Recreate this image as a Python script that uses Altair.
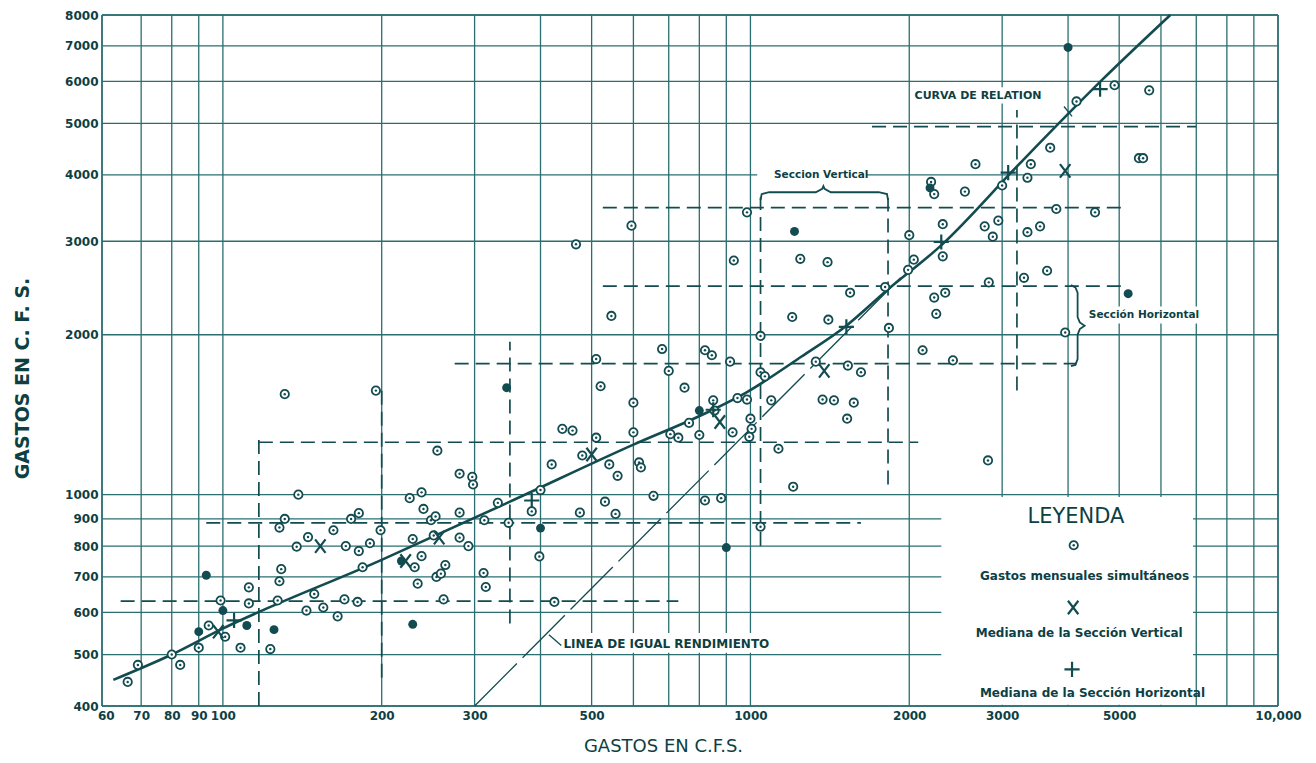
import altair as alt
import pandas as pd

FONT = "DejaVu Sans"
GRID = "#2a6e71"
DARK = "#134c50"
TXT = "#0e3f43"

# ---------------- data (c.f.s.) ----------------
open_x = [66, 69, 80, 83, 90, 94, 99, 101, 108, 112, 112, 123, 127, 128, 129, 128, 131, 131, 139, 138,
          145, 144, 149, 155, 162, 165, 170, 171, 175, 180, 181, 181, 184, 190, 199, 195, 226, 231, 229, 234,
          238, 240, 238, 248, 253, 251, 254, 259, 264, 255, 281, 281, 281, 292, 262, 297, 298, 312, 315, 313,
          332, 348,
          985, 595, 467, 930, 1243, 1400, 2000, 2040, 1990, 2315, 2315, 2230, 2340, 2250, 2120, 2420, 1545, 1800,
          1830, 1405, 1200, 1045, 545, 680, 820, 845, 915, 510, 700, 520, 750, 600, 1045, 1065, 1330, 1530,
          1620, 1095, 1370, 1440, 1570, 1525, 1205, 1130, 945, 985, 850, 855, 1000, 1005, 925, 995, 800, 765,
          730, 705, 600, 615, 620, 560, 540, 510, 480, 440, 460, 420, 400, 385, 398, 475, 530, 555, 655, 820,
          880, 1045, 425, 2820,
          4900, 5700, 4150, 3700, 3400, 3350, 2670, 2550, 2200, 2230, 3000, 2780, 2950, 2880, 3350, 3540, 3800,
          4500, 5450, 5550, 2830, 3300, 3650, 3950]
open_y = [444, 478, 500, 478, 515, 567, 632, 540, 515, 669, 624, 512, 632, 687, 724, 867, 900, 1546, 1000, 798,
          832, 605, 650, 613, 857, 590, 635, 800, 900, 628, 923, 783, 730, 810, 857, 1570, 985, 730, 825, 680,
          1010, 940, 766, 895, 910, 838, 700, 710, 737, 1210, 1095, 925, 830, 800, 635, 1080, 1045, 712, 670, 895,
          965, 885,
          3400, 3210, 2960, 2760, 2780, 2740, 3080, 2770, 2650, 3230, 2810, 2350, 2400, 2190, 1870, 1790, 2400, 2460,
          2060, 2135, 2160, 1990, 2170, 1880, 1870, 1830, 1780, 1800, 1710, 1600, 1590, 1490, 1700, 1670, 1780, 1750,
          1700, 1505, 1510, 1505, 1490, 1390, 1035, 1220, 1520, 1510, 1505, 1440, 1390, 1330, 1310, 1285, 1295, 1365,
          1280, 1300, 1310, 1150, 1125, 1085, 1140, 1280, 1185, 1330, 1320, 1140, 1020, 930, 765, 925, 970, 920, 995, 975,
          985, 870, 628, 1160,
          5900, 5770, 5500, 4500, 4190, 3950, 4190, 3720, 3880, 3680, 3820, 3200, 3280, 3060, 3120, 3200, 3450,
          3400, 4300, 4300, 2510, 2560, 2640, 2020]
solid_x = [90, 93, 100, 111, 125, 218, 229, 345, 1212, 800, 400, 900, 4000, 5200, 2190]
solid_y = [552, 705, 605, 567, 557, 750, 570, 1590, 3130, 1440, 865, 795, 6950, 2390, 3780]

vmed_x = [98, 153, 222, 257, 500, 875, 1380, 3950]          # Mediana de la Sección Vertical
vmed_y = [552, 800, 750, 830, 1190, 1370, 1710, 4070]
hmed_x = [105, 385, 850, 1520, 2300, 3080, 4600]            # Mediana de la Sección Horizontal
hmed_y = [580, 975, 1445, 2070, 2990, 4040, 5800]

curve_x = [62, 80, 99, 199, 350, 600, 818, 985, 1250, 1520, 1810, 2310, 3200, 4650, 6250]
curve_y = [448, 500, 557, 752, 970, 1242, 1420, 1560, 1820, 2080, 2420, 2960, 4150, 6050, 8000]

equal_x = [300, 2000]
equal_y = [400, 2660]

grid_x = [59, 70, 80, 90, 100, 200, 300, 400, 500, 600, 700, 800, 900, 1000,
          2000, 3000, 4000, 5000, 6000, 7000, 8000, 9000, 10000]
grid_y = [400, 500, 600, 700, 800, 900, 1000, 2000, 3000, 4000, 5000, 6000, 7000, 8000]
xtick_labels = [60, 70, 80, 90, 100, 200, 300, 500, 1000, 2000, 3000, 5000, 10000]
ytick_labels = [400, 500, 600, 700, 800, 900, 1000, 2000, 3000, 4000, 5000, 6000, 7000, 8000]

hsec_y = [630, 885, 1255, 1765, 2470, 3470, 4930]
hsec_x1 = [64, 93, 117, 275, 525, 525, 1700]
hsec_x2 = [730, 1620, 2080, 4150, 5150, 5150, 7000]
vsec_x = [117, 200, 350, 1045, 1823, 3200]
vsec_y1 = [400, 452, 572, 800, 1045, 1570]
vsec_y2 = [1290, 1600, 1940, 3630, 3620, 5300]

brace_v_x = [1045, 1050, 1085, 1330, 1368, 1375, 1382, 1420, 1750, 1815, 1823]
brace_v_y = [3585, 3680, 3710, 3710, 3765, 3810, 3765, 3710, 3710, 3680, 3585]
brace_h_x = [4050, 4130, 4170, 4170, 4210, 4300, 4210, 4170, 4170, 4130, 4050]
brace_h_y = [2480, 2455, 2400, 2160, 2110, 2080, 2050, 2000, 1800, 1755, 1745]

# white label backgrounds (x1, x2, y1, y2)
bg_x1 = [2300, 1030, 4300, 2050, 435]
bg_x2 = [6900, 1660, 7800, 3650, 1370]
bg_y1 = [402, 3720, 2100, 5450, 504]
bg_y2 = [990, 4280, 2260, 5850, 549]

pointer_x1 = [415, 3930]
pointer_y1 = [545, 5380]
pointer_x2 = [438, 4070]
pointer_y2 = [520, 5155]

# ---------------- encodings ----------------
xscale = alt.Scale(type="log", domain=[59, 10000], nice=False)
yscale = alt.Scale(type="log", domain=[400, 8000], nice=False)

xaxis = alt.Axis(values=xtick_labels,
                 labelExpr="datum.value == 10000 ? '10,000' : format(datum.value, 'd')",
                 grid=False, ticks=False, domain=False, labelOverlap=False, labelFlush=False,
                 labelFont=FONT, labelFontSize=12, labelFontWeight="bold", labelColor=TXT, labelPadding=4,
                 title="GASTOS EN C.F.S.", titleFont=FONT, titleFontSize=18, titleFontWeight="normal",
                 titleColor=TXT, titleX=561, titleY=40, titleAlign="center", titleBaseline="middle")
yaxis = alt.Axis(values=ytick_labels, format="d",
                 grid=False, ticks=False, domain=False, labelOverlap=False, labelFlush=False,
                 labelFont=FONT, labelFontSize=12, labelFontWeight="bold", labelColor=TXT, labelPadding=4,
                 title="GASTOS   EN   C. F. S.", titleFont=FONT, titleFontSize=19, titleFontWeight="bold",
                 titleColor=TXT, titleX=-80, titleY=363, titleAngle=270, titleAlign="center",
                 titleBaseline="middle")


def X(f="x"):
    return alt.X(f"{f}:Q", scale=xscale, axis=xaxis)


def Y(f="y"):
    return alt.Y(f"{f}:Q", scale=yscale, axis=yaxis)


# ---------------- layers ----------------
gv = pd.DataFrame({"x": grid_x, "y": [400] * len(grid_x), "y2": [8000] * len(grid_x)})
gh = pd.DataFrame({"y": grid_y, "x": [59] * len(grid_y), "x2": [10000] * len(grid_y)})
grid_v = alt.Chart(gv).mark_rule(color=GRID, strokeWidth=1.3).encode(x=X(), y=Y(), y2="y2:Q")
grid_h = alt.Chart(gh).mark_rule(color=GRID, strokeWidth=1.3).encode(y=Y(), x=X(), x2="x2:Q")

bg = pd.DataFrame({"x": bg_x1, "x2": bg_x2, "y": bg_y1, "y2": bg_y2})
bg_rect = alt.Chart(bg).mark_rect(fill="white", opacity=1).encode(x=X(), x2="x2:Q", y=Y(), y2="y2:Q")

frame_v = alt.Chart(pd.DataFrame({"x": [59, 10000], "y": [400, 400], "y2": [8000, 8000]})).mark_rule(
    color=GRID, strokeWidth=1.5).encode(x=X(), y=Y(), y2="y2:Q")
frame_h = alt.Chart(pd.DataFrame({"y": [400, 8000], "x": [59, 59], "x2": [10000, 10000]})).mark_rule(
    color=GRID, strokeWidth=1.5).encode(y=Y(), x=X(), x2="x2:Q")

hs = pd.DataFrame({"y": hsec_y, "x": hsec_x1, "x2": hsec_x2})
vs = pd.DataFrame({"x": vsec_x, "y": vsec_y1, "y2": vsec_y2})
hsec = alt.Chart(hs).mark_rule(color=DARK, strokeWidth=1.7, strokeDash=[14, 7]).encode(y=Y(), x=X(), x2="x2:Q")
vsec = alt.Chart(vs).mark_rule(color=DARK, strokeWidth=1.7, strokeDash=[14, 7]).encode(x=X(), y=Y(), y2="y2:Q")

eq = alt.Chart(pd.DataFrame({"x": equal_x, "y": equal_y})).mark_line(
    color=DARK, strokeWidth=1.3, strokeDash=[60, 8]).encode(x=X(), y=Y())

curve = alt.Chart(pd.DataFrame({"x": curve_x, "y": curve_y})).mark_line(
    color=DARK, strokeWidth=2.6, interpolate="monotone").encode(x=X(), y=Y())

bv = pd.DataFrame({"x": brace_v_x, "y": brace_v_y, "o": range(len(brace_v_x))})
bh = pd.DataFrame({"x": brace_h_x, "y": brace_h_y, "o": range(len(brace_h_x))})
brace_v = alt.Chart(bv).mark_line(color=DARK, strokeWidth=1.8).encode(x=X(), y=Y(), order="o:Q")
brace_h = alt.Chart(bh).mark_line(color=DARK, strokeWidth=1.8).encode(x=X(), y=Y(), order="o:Q")

ptr = pd.DataFrame({"x": pointer_x1, "y": pointer_y1, "x2": pointer_x2, "y2": pointer_y2})
pointers = alt.Chart(ptr).mark_rule(color=DARK, strokeWidth=1.3).encode(x=X(), y=Y(), x2="x2:Q", y2="y2:Q")

# legend symbol positions
leg_circle = pd.DataFrame({"x": [4100], "y": [803]})
leg_x = pd.DataFrame({"x": [4090], "y": [613]})
leg_plus = pd.DataFrame({"x": [4070], "y": [469]})

opn = pd.concat([pd.DataFrame({"x": open_x, "y": open_y}), leg_circle])
open_pts = alt.Chart(opn).mark_circle(fill="white", stroke=DARK, strokeWidth=1.8, size=70, opacity=1).encode(
    x=X(), y=Y())
dots = alt.Chart(opn).mark_circle(color=DARK, size=6, opacity=1).encode(x=X(), y=Y())
solid_pts = alt.Chart(pd.DataFrame({"x": solid_x, "y": solid_y})).mark_circle(
    color=DARK, size=80, opacity=1).encode(x=X(), y=Y())

X_SHAPE = "M-0.85,-1.1L0.85,1.1M-0.85,1.1L0.85,-1.1"
P_SHAPE = "M-1,0L1,0M0,-1L0,1"
vmed = alt.Chart(pd.concat([pd.DataFrame({"x": vmed_x, "y": vmed_y}), leg_x])).mark_point(
    shape=X_SHAPE, filled=False, color=DARK, strokeWidth=2.2, size=150, opacity=1).encode(x=X(), y=Y())
hmed = alt.Chart(pd.concat([pd.DataFrame({"x": hmed_x, "y": hmed_y}), leg_plus])).mark_point(
    shape=P_SHAPE, filled=False, color=DARK, strokeWidth=2.2, size=230, opacity=1).encode(x=X(), y=Y())


# ---------------- texts ----------------
def text_layer(xs, ys, labels, size, align="center", weight="bold"):
    df = pd.DataFrame({"x": xs, "y": ys, "t": labels})
    return alt.Chart(df).mark_text(font=FONT, fontSize=size, fontWeight=weight, color=TXT,
                                   align=align, baseline="middle").encode(x=X(), y=Y(), text="t:N")


t_curve = text_layer([2700], [5640], ["CURVA DE RELATION"], 11)
t_secv = text_layer([1362], [4000], ["Seccion Vertical"], 10.5)
t_sech = text_layer([4380], [2180], ["Sección Horizontal"], 10.5, align="left")
t_line = text_layer([442], [524], ["LINEA DE IGUAL RENDIMIENTO"], 12, align="left")
t_ley = text_layer([4140], [908], ["LEYENDA"], 21, weight="normal")
t_leg = text_layer([4300, 4200, 4450], [703, 549, 423],
                   ["Gastos mensuales simultáneos", "Mediana de la Sección Vertical",
                    "Mediana de la Sección Horizontal"], 12)

chart = alt.layer(
    grid_v, grid_h, bg_rect, frame_v, frame_h, hsec, vsec, eq, curve, brace_v, brace_h, pointers,
    open_pts, dots, solid_pts, vmed, hmed,
    t_curve, t_secv, t_sech, t_line, t_ley, t_leg,
).properties(
    width=1176, height=691,
    padding={"left": 94, "top": 7, "right": 30, "bottom": 55},
    autosize=alt.AutoSizeParams(type="none"),
    background="white",
).configure_view(stroke=None)

chart.save("out.html", embed_options={"renderer": "svg", "actions": False})
